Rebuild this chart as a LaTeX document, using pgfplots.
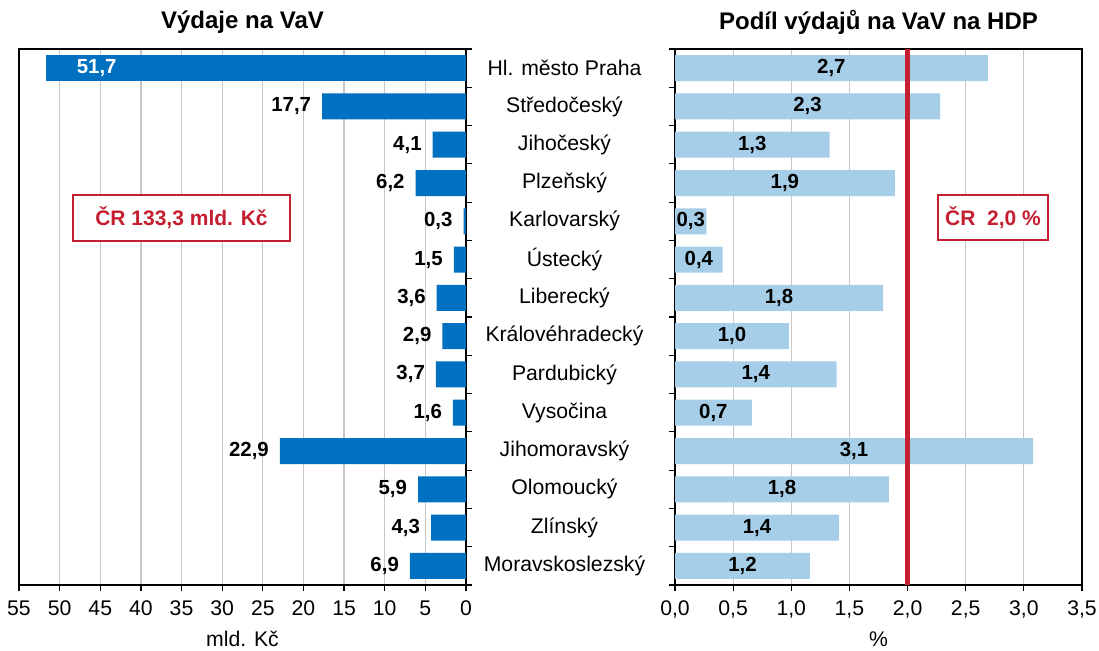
\documentclass[border=0pt]{standalone}
\usepackage{pgfplots}
\pgfplotsset{compat=1.18}
\usepackage{pgfplotstable}
\usepackage{fontspec}
\setmainfont{Liberation Sans}
\definecolor{vavblue}{RGB}{0,112,192}
\definecolor{hdpblue}{RGB}{166,206,232}
\definecolor{crred}{RGB}{196,30,48}

\pgfplotstableread{
y x label
1 17.7 17,7
2 4.1 4,1
3 6.2 6,2
4 0.3 0,3
5 1.5 1,5
6 3.6 3,6
7 2.9 2,9
8 3.7 3,7
9 1.6 1,6
10 22.9 22,9
11 5.9 5,9
12 4.3 4,3
13 6.9 6,9
}\vydaje
\pgfplotstableread{
y x label
0 51.7 51,7
}\praha
\pgfplotstableread{
y x label
0 2.69 2,7
1 2.28 2,3
2 1.33 1,3
3 1.89 1,9
4 0.27 0,3
5 0.41 0,4
6 1.79 1,8
7 0.98 1,0
8 1.39 1,4
9 0.66 0,7
10 3.08 3,1
11 1.84 1,8
12 1.41 1,4
13 1.16 1,2
}\hdp

\newcommand{\tf}{\fontsize{10.6}{12.5}\selectfont}
\newcommand{\lf}{\bfseries\fontsize{10.2}{12}\selectfont}

\begin{document}
\begin{tikzpicture}[font=\tf]
\useasboundingbox (0,0) rectangle (549.5pt,325pt);
\pgfplotsset{
  common/.style={
    scale only axis, height=268pt, anchor=south west,
    y dir=reverse, ymin=-0.5, ymax=13.5,
    ytick={-0.5,0.5,...,13.5}, yticklabels={},
    tick align=outside, major tick length=3pt,
    xtick pos=bottom,
    xmajorgrids, grid style={black!22, line width=0.6pt},
    axis line style={black, line width=1pt},
    tick style={black, line width=0.6pt},
    /pgf/number format/assume math mode=true,
    ticklabel style={font=\tf},
    xticklabel style={yshift=-1.5pt},
    label style={font=\tf},
    every axis title shift=0pt,
    title style={at={(0.5,1)}, anchor=center, yshift=13.5pt, font=\bfseries\fontsize{12}{14}\selectfont},
    xlabel style={at={(axis description cs:0.5,0)}, anchor=center, yshift=-27pt},
    clip=false,
  }
}
\begin{axis}[common, at={(9.5pt,32.5pt)}, width=223.5pt,
  x dir=reverse, xmin=0, xmax=55, xtick={0,5,...,55},
  ytick pos=right,
  title={Výdaje na VaV},
  xlabel={mld. Kč},
]
\addplot[xbar, bar width=13pt, bar shift=0pt, fill=vavblue, draw=none,
  nodes near coords, point meta=explicit symbolic,
  every node near coord/.append style={anchor=east, xshift=-2pt, font=\lf, text=black}]
  table[x=x, y=y, meta=label]{\vydaje};
\addplot[xbar, bar width=13pt, bar shift=0pt, fill=vavblue, draw=none,
  nodes near coords, point meta=explicit symbolic,
  every node near coord/.append style={anchor=west, xshift=12pt, font=\lf, text=white}]
  table[x=x, y=y, meta=label]{\praha};
\end{axis}

\begin{axis}[common, at={(337.5pt,32.5pt)}, width=203.5pt,
  xmin=0, xmax=3.5, xtick={0,0.5,...,3.5},
  xticklabel style={/pgf/number format/.cd, fixed, fixed zerofill, precision=1, use comma},
  ytick pos=left,
  extra y ticks={0,1,...,13},
  extra y tick labels={Hl. město Praha, Středočeský, Jihočeský, Plzeňský, Karlovarský, Ústecký, Liberecký, Královéhradecký, Pardubický, Vysočina, Jihomoravský, Olomoucký, Zlínský, Moravskoslezský},
  extra y tick style={tick style={draw=none}, yticklabel style={anchor=center, xshift=-52.25pt}},
  title={Podíl výdajů na VaV na HDP},
  xlabel={\%},
]
\addplot[xbar, bar width=13pt, bar shift=0pt, fill=hdpblue, draw=none,
  nodes near coords, point meta=explicit symbolic,
  visualization depends on={rawx \as \rawx},
  every node near coord/.append style={anchor=center, xshift={-29.0714pt*\rawx}, font=\lf, text=black}]
  table[x=x, y=y, meta=label]{\hdp};
\addplot[crred, line width=2.1pt, forget plot] coordinates {(2,-0.5) (2,13.5)};
\end{axis}

\node[draw=crred, line width=0.8pt, fill=white, text=crred, font=\bfseries\fontsize{10.5}{12}\selectfont,
  minimum width=108.5pt, minimum height=23pt, inner sep=0pt] at (90.75pt,216pt) {ČR 133,3 mld. Kč};
\node[draw=crred, line width=0.8pt, fill=white, text=crred, font=\bfseries\fontsize{10.5}{12}\selectfont,
  minimum width=55pt, minimum height=22.5pt, inner sep=0pt] at (496.5pt,216.25pt) {ČR\ \ 2,0 \%};
\end{tikzpicture}
\end{document}
